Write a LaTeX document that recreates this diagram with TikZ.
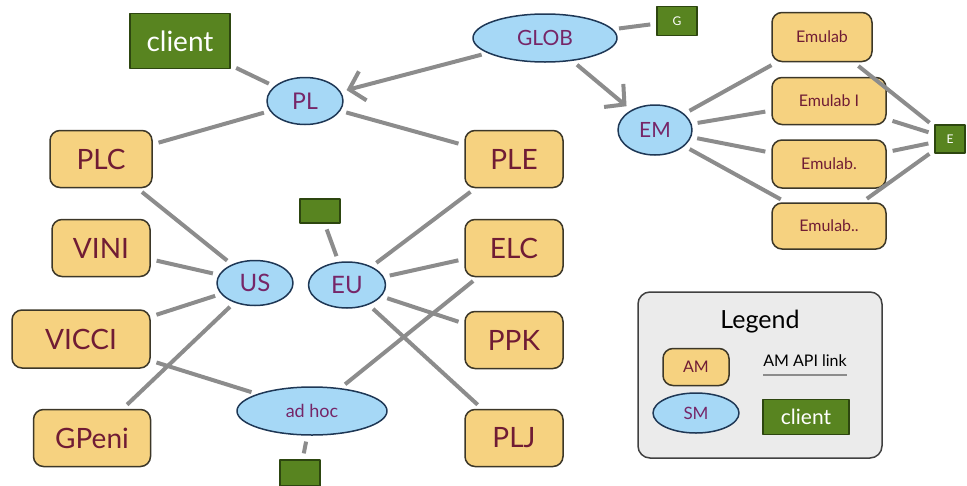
\documentclass[tikz,border=0pt]{standalone}
\usepackage{fontspec}
\setmainfont{Lato}
\usetikzlibrary{arrows.meta,shapes.geometric}
\definecolor{amfill}{RGB}{246,210,128}
\definecolor{amline}{RGB}{60,55,40}
\definecolor{amtext}{RGB}{112,28,52}
\definecolor{smfill}{RGB}{166,216,246}
\definecolor{smline}{RGB}{30,55,85}
\definecolor{smtext}{RGB}{118,38,104}
\definecolor{clfill}{RGB}{88,132,32}
\definecolor{clline}{RGB}{45,70,15}
\definecolor{linkgray}{RGB}{140,140,140}
\newcommand\fsz[1]{\fontsize{#1}{#1}\selectfont}
\begin{document}
\begin{tikzpicture}[x=1pt,y=-1pt,line join=round,
	am/.style={draw=amline,fill=amfill,rounded corners=10,line width=1.5,text=amtext,inner sep=0},
	sm/.style={ellipse,draw=smline,fill=smfill,line width=1.5,text=smtext,inner sep=0},
	cl/.style={draw=clline,fill=clfill,line width=1.5,text=white,inner sep=0},
	link/.style={draw=linkgray,line width=4,shorten >=6,shorten <=6},
	tip/.style={-{Straight Barb[length=14pt,width=30pt,line width=4pt]}}]
	\useasboundingbox (0,0) rectangle (967,485);
	% servers and clients
	\node[cl,minimum width=100,minimum height=55,font=\fsz{28}] (client) at (180,41) {client};
	\node[sm,minimum width=76,minimum height=47,font=\fsz{23}] (pl) at (305,101) {PL};
	\node[sm,minimum width=144,minimum height=48,font=\fsz{21}] (glob) at (545,38) {GLOB};
	\node[cl,minimum width=40,minimum height=29,font=\fsz{12}] (gcl) at (677,21) {G};
	\node[sm,minimum width=74,minimum height=50,font=\fsz{21}] (em) at (655,130) {EM};
	\node[am,minimum width=100,minimum height=49,font=\fsz{16}] (emu) at (822,37) {Emulab};
	\node[am,minimum width=114,minimum height=47,font=\fsz{16}] (emua) at (829,101) {Emulab I};
	\node[am,minimum width=114,minimum height=48,font=\fsz{16}] (emub) at (829,164) {Emulab.};
	\node[am,minimum width=114,minimum height=46,font=\fsz{16}] (emuc) at (829,226) {Emulab..};
	\node[cl,minimum width=30,minimum height=28,font=\fsz{12}] (ecl) at (950,139) {E};
	\node[am,minimum width=102,minimum height=57,font=\fsz{28}] (plc) at (101,159) {PLC};
	\node[am,minimum width=98,minimum height=57,font=\fsz{28}] (vini) at (101,248) {VINI};
	\node[am,minimum width=138,minimum height=58,font=\fsz{28}] (vicci) at (81,339) {VICCI};
	\node[am,minimum width=117,minimum height=57,font=\fsz{28}] (gpeni) at (92,438) {GPeni};
	\node[am,minimum width=98,minimum height=57,font=\fsz{28}] (ple) at (514,159) {PLE};
	\node[am,minimum width=98,minimum height=57,font=\fsz{28}] (elc) at (514,248) {ELC};
	\node[am,minimum width=98,minimum height=57,font=\fsz{28}] (ppk) at (514,340) {PPK};
	\node[am,minimum width=98,minimum height=57,font=\fsz{28}] (plj) at (514,438) {PLJ};
	\node[sm,minimum width=76,minimum height=45,font=\fsz{24}] (us) at (255,283) {US};
	\node[sm,minimum width=77,minimum height=46,font=\fsz{24}] (eu) at (347,285) {EU};
	\node[sm,minimum width=150,minimum height=48,font=\fsz{18}] (adhoc) at (312,411) {ad hoc};
	\node[cl,minimum width=40,minimum height=24] (eucl) at (320,211) {};
	\node[cl,minimum width=40,minimum height=26] (adcl) at (300,473) {};
	% links
	\draw[link] (client) -- (pl);
	\draw[link] (pl) -- (plc);
	\draw[link] (pl) -- (ple);
	\draw[link,tip] (glob) -- (pl);
	\draw[link] (glob) -- (gcl);
	\draw[link,tip] (glob) -- (em);
	\foreach \e in {emu,emua,emub,emuc}{
		\draw[link] (em) -- (\e);
		\draw[link] (\e) -- (ecl);
	}
	\foreach \a in {plc,vini,vicci,gpeni}
		\draw[link] (\a) -- (us);
	\foreach \a in {ple,elc,ppk,plj,eucl}
		\draw[link] (\a) -- (eu);
	\draw[link] (vicci) -- (adhoc);
	\draw[link] (adhoc) -- (elc);
	\draw[link] (adhoc) -- (adcl);
	% legend
	\node[draw=black!75,fill=black!8,rounded corners=12,line width=1.5,minimum width=244,minimum height=166] (legend) at (760,375) {};
	\node[font=\fsz{25}] (legendtitle) at (760,322) {Legend};
	\node[am,minimum width=66,minimum height=37,font=\fsz{16}] (amkey) at (696,367) {AM};
	\node[sm,minimum width=86,minimum height=40,font=\fsz{17}] (smkey) at (696,413) {SM};
	\node[font=\fsz{16}] (linkkey) at (805,361) {AM API link};
	\coordinate (ka) at (763,375);
	\coordinate (kb) at (847,375);
	\draw[draw=linkgray,line width=1.5] (ka) -- (kb);
	\node[cl,minimum width=86,minimum height=35,font=\fsz{21}] (clkey) at (806,417) {client};
\end{tikzpicture}
\end{document}
